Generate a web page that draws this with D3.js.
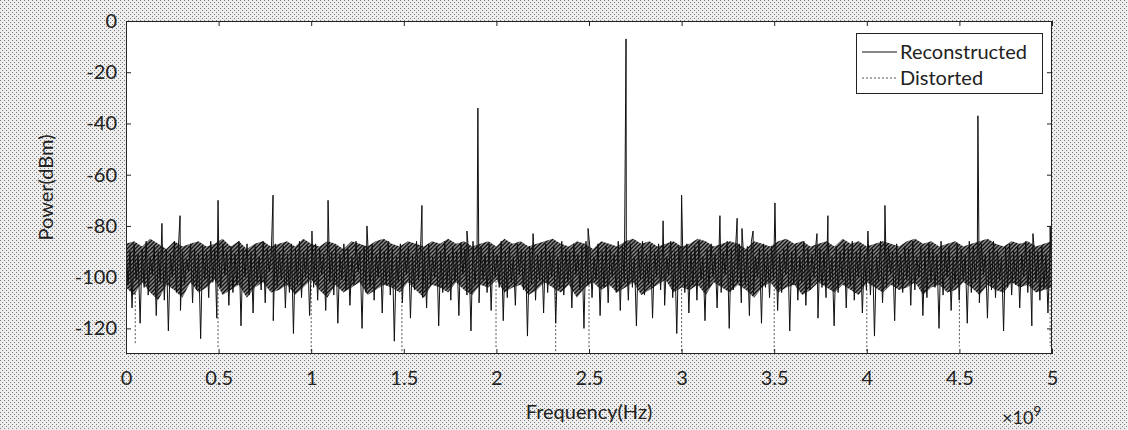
<!DOCTYPE html>
<html><head><meta charset="utf-8">
<script src="https://cdn.jsdelivr.net/npm/d3@7"></script>
<style>
html,body{margin:0;padding:0;background:#fff;}
svg{display:block;font-family:Lato,"Open Sans",sans-serif;}
</style></head>
<body>
<svg id="chart" width="1128" height="430"></svg>
<script>
// ---- data ----
const xTicks = [0, 0.5, 1, 1.5, 2, 2.5, 3, 3.5, 4, 4.5, 5];
const yTicks = [0, -20, -40, -60, -80, -100, -120];
const seriesNames = ["Reconstructed", "Distorted"];

// noise floor samples (dBm), evenly spaced over 0..5 (x10^9 Hz)
const noiseFloor = [
-88,-103,-90,-112,-87,-101,-91,-118,-89,-104,-86,-107,-92,-99,-88,-115,-90,-102,-87,-109,
-89,-121,-91,-100,-86,-106,-88,-113,-90,-103,-93,-98,-87,-110,-89,-105,-91,-124,-88,-101,
-90,-108,-86,-102,-89,-116,-92,-104,-87,-99,-90,-111,-88,-106,-91,-103,-86,-119,-89,-100,
-87,-107,-90,-114,-88,-102,-92,-105,-86,-110,-89,-98,-91,-117,-87,-104,-90,-101,-88,-112,
-91,-106,-87,-122,-89,-103,-86,-108,-90,-100,-88,-115,-92,-104,-87,-109,-89,-99,-91,-113,
-86,-102,-90,-107,-88,-118,-91,-101,-87,-105,-89,-111,-92,-103,-86,-98,-90,-120,-88,-106,
-89,-104,-87,-109,-91,-100,-88,-114,-90,-103,-86,-107,-89,-125,-92,-102,-87,-110,-90,-99,
-88,-116,-91,-105,-86,-101,-89,-108,-90,-112,-87,-103,-92,-100,-88,-119,-90,-106,-86,-104,
-91,-109,-88,-102,-90,-115,-87,-99,-89,-107,-92,-121,-86,-103,-90,-110,-88,-101,-91,-106,
-87,-113,-89,-100,-91,-104,-86,-117,-90,-108,-88,-102,-92,-111,-87,-99,-89,-105,-90,-123,
-88,-103,-86,-109,-91,-101,-89,-114,-87,-106,-90,-100,-88,-118,-92,-104,-86,-107,-89,-102,
-90,-112,-87,-99,-91,-105,-88,-120,-86,-103,-89,-108,-92,-101,-87,-115,-90,-104,-88,-110,
-89,-100,-91,-106,-86,-113,-88,-102,-90,-109,-87,-104,-92,-119,-89,-101,-86,-107,-91,-103,
-88,-116,-90,-100,-87,-105,-89,-111,-92,-99,-86,-108,-90,-122,-88,-102,-91,-106,-87,-114,
-90,-103,-88,-109,-86,-101,-92,-117,-89,-104,-87,-100,-91,-112,-88,-106,-90,-99,-86,-120,
-89,-105,-91,-102,-87,-110,-90,-103,-88,-115,-86,-107,-92,-100,-89,-118,-87,-104,-90,-108,
-88,-101,-86,-113,-91,-106,-89,-99,-87,-121,-90,-103,-88,-109,-92,-102,-86,-111,-89,-105,
-91,-100,-87,-116,-89,-104,-90,-108,-86,-102,-92,-119,-88,-106,-90,-101,-87,-112,-89,-103,
-86,-109,-90,-100,-88,-114,-91,-105,-87,-107,-89,-123,-92,-102,-86,-110,-90,-104,-88,-99,
-90,-117,-87,-103,-91,-106,-88,-101,-89,-111,-86,-105,-92,-100,-88,-115,-90,-108,-87,-102,
-89,-104,-91,-120,-86,-107,-90,-100,-88,-113,-92,-103,-87,-109,-89,-101,-91,-118,-86,-106,
-88,-102,-90,-110,-87,-99,-91,-116,-89,-105,-86,-108,-90,-101,-92,-121,-88,-104,-87,-107,
-90,-103,-88,-112,-91,-100,-86,-106,-89,-119,-87,-102,-90,-109,-88,-104,-91,-114,-89,-101
];

// dense-band envelope of the noise floor (dBm), evenly spaced over 0..5
const bandUpper = [
-87,-86,-88,-85,-87,-89,-86,-88,-87,-86,-88,-87,-85,-88,-86,-89,-87,-86,-88,-87,
-86,-88,-85,-87,-88,-86,-87,-89,-86,-87,-88,-86,-85,-87,-88,-86,-87,-88,-86,-87,
-85,-87,-86,-88,-87,-86,-88,-85,-87,-86,-88,-87,-86,-85,-87,-88,-86,-87,-89,-86,
-87,-88,-86,-85,-87,-86,-88,-87,-86,-88,-87,-85,-86,-88,-87,-86,-87,-89,-86,-87,
-88,-86,-85,-87,-86,-88,-87,-86,-88,-85,-87,-86,-88,-87,-86,-87,-88,-86,-85,-87,
-86,-88,-87,-86,-88,-87,-86,-85,-87,-88,-86,-87,-86,-88,-87,-86
];
const bandLower = [
-104,-107,-102,-106,-109,-103,-105,-108,-102,-106,-104,-101,-107,-105,-103,-108,-104,-102,-106,-105,
-103,-107,-104,-101,-105,-108,-103,-106,-104,-102,-107,-105,-103,-104,-106,-102,-105,-108,-103,-104,
-106,-102,-105,-107,-103,-104,-101,-106,-104,-103,-107,-105,-102,-104,-106,-103,-108,-104,-102,-105,
-103,-106,-104,-102,-107,-105,-103,-101,-106,-104,-105,-103,-107,-102,-104,-106,-103,-105,-108,-104,
-102,-106,-104,-103,-107,-105,-102,-104,-106,-103,-105,-107,-102,-104,-106,-103,-105,-104,-102,-107,
-104,-103,-106,-105,-102,-104,-107,-103,-105,-106,-102,-104,-103,-106,-105,-104
];

// tones / spurs (frequency in x10^9 Hz, level in dBm)
const spurFreq  = [0.194,0.292,0.497,0.794,1.004,1.091,1.301,1.598,1.841,1.9,2.198,2.495,2.7,2.9,3.0,3.207,3.3,3.326,3.386,3.504,3.731,3.79,4.006,4.098,4.6,4.897,4.99];
const spurLevel = [-79,-76,-70,-68,-82,-70,-80,-72,-82,-34,-83,-81,-7,-78,-68,-76,-77,-81,-82,-71,-83,-76,-82,-72,-37,-83,-80];

// distorted trace deep notches
const distFreq  = [0.05,0.497,1.0,1.49,1.998,2.32,2.5,3.0,3.5,4.0,4.5,4.99];
const distLevel = [-126,-128,-129,-129,-128,-129,-128,-129,-129,-130,-127,-127];

// ---- chart ----
const W = 1128, H = 430;
const m = {left:126, right:1052, top:21, bottom:354};
const svg = d3.select("#chart");

const defs = svg.append("defs");
const pat = defs.append("pattern").attr("id","dots").attr("width",4).attr("height",4)
  .attr("patternUnits","userSpaceOnUse");
pat.append("rect").attr("width",4).attr("height",4).attr("fill","#eeeeee");
pat.append("rect").attr("x",0).attr("y",0).attr("width",1).attr("height",1).attr("fill","#7a7a7a");
pat.append("rect").attr("x",2).attr("y",2).attr("width",1).attr("height",1).attr("fill","#7a7a7a");

// diagonal hatch for dense noise band
const hat = defs.append("pattern").attr("id","hatch").attr("width",4).attr("height",4)
  .attr("patternUnits","userSpaceOnUse");
hat.append("rect").attr("width",4).attr("height",4).attr("fill","#8a8a8a");
hat.append("path").attr("d","M-1,1 L1,-1 M0,4 L4,0 M3,5 L5,3").attr("stroke","#111").attr("stroke-width",1.4);

svg.append("rect").attr("width",W).attr("height",H).attr("fill","url(#dots)");

const x = d3.scaleLinear().domain([0,5]).range([m.left, m.right]);
const y = d3.scaleLinear().domain([-130,0]).range([m.bottom, m.top]);

svg.append("rect").attr("x",m.left).attr("y",m.top)
  .attr("width",m.right-m.left).attr("height",m.bottom-m.top).attr("fill","#fff");

const clip = defs.append("clipPath").attr("id","clip");
clip.append("rect").attr("x",m.left).attr("y",m.top)
  .attr("width",m.right-m.left).attr("height",m.bottom-m.top);

const g = svg.append("g").attr("clip-path","url(#clip)");

// distorted (dotted)
g.selectAll("line.dist").data(distFreq.map((f,i)=>({f, v:distLevel[i]})))
  .join("line").attr("class","dist")
  .attr("x1",d=>x(d.f)).attr("x2",d=>x(d.f))
  .attr("y1",y(-100)).attr("y2",d=>y(d.v))
  .attr("stroke","#555").attr("stroke-width",1).attr("stroke-dasharray","2,2");

// reconstructed: dense band
const NB = bandUpper.length;
const band = bandUpper.map((u,i)=>({f:i*5/(NB-1), u, l:bandLower[i]}));
g.append("path").datum(band)
  .attr("d", d3.area().x(d=>x(d.f)).y0(d=>y(d.l)).y1(d=>y(d.u)))
  .attr("fill","url(#hatch)");

// reconstructed: trace
const N = noiseFloor.length;
const pts = noiseFloor.map((v,i)=>({f: i*5/(N-1), v}))
  .concat(spurFreq.map((f,i)=>({f, v: spurLevel[i]})))
  .sort((a,b)=>a.f-b.f);
const line = d3.line().x(d=>x(d.f)).y(d=>y(d.v));
g.append("path").datum(pts).attr("d",line)
  .attr("fill","none").attr("stroke","#111").attr("stroke-width",1);

// axes
const fs = 20;
const axB = svg.append("g").attr("transform",`translate(0,${m.bottom})`)
  .call(d3.axisBottom(x).tickValues(xTicks).tickFormat(d=>String(d)).tickSizeInner(-5).tickSizeOuter(0).tickPadding(17));
const axT = svg.append("g").attr("transform",`translate(0,${m.top})`)
  .call(d3.axisTop(x).tickValues(xTicks).tickFormat("").tickSizeInner(-5).tickSizeOuter(0));
const axL = svg.append("g").attr("transform",`translate(${m.left},0)`)
  .call(d3.axisLeft(y).tickValues(yTicks).tickFormat(d=>String(d)).tickSizeInner(-5).tickSizeOuter(0).tickPadding(9));
const axR = svg.append("g").attr("transform",`translate(${m.right},0)`)
  .call(d3.axisRight(y).tickValues(yTicks).tickFormat("").tickSizeInner(-5).tickSizeOuter(0));
[axB,axT,axL,axR].forEach(a=>{
  a.select(".domain").remove();
  a.selectAll(".tick line").attr("stroke","#222");
  a.selectAll("text").attr("font-size",fs).attr("fill","#222").attr("font-family","Lato, sans-serif");
});
svg.append("rect").attr("x",m.left+0.5).attr("y",m.top+0.5)
  .attr("width",m.right-m.left-1).attr("height",m.bottom-m.top-1)
  .attr("fill","none").attr("stroke","#222").attr("stroke-width",1);

svg.append("text").attr("x",(m.left+m.right)/2).attr("y",419)
  .attr("text-anchor","middle").attr("font-size",fs).attr("fill","#222").text("Frequency(Hz)");
svg.append("text").attr("transform",`translate(53,${(m.top+m.bottom)/2}) rotate(-90)`)
  .attr("text-anchor","middle").attr("font-size",fs).attr("fill","#222").text("Power(dBm)");
const ex = svg.append("text").attr("x",1002).attr("y",424).attr("font-size",18).attr("fill","#222");
ex.append("tspan").text("×10");
ex.append("tspan").attr("dy",-8).attr("font-size",14).text("9");

// legend
const lg = svg.append("g");
lg.append("rect").attr("x",856.5).attr("y",33.5).attr("width",186).attr("height",60)
  .attr("fill","#fff").attr("stroke","#222");
const styles = [{dash:null, color:"#111"}, {dash:"2,2", color:"#555"}];
seriesNames.forEach((n,i)=>{
  const yy = 52 + i*26;
  lg.append("line").attr("x1",862).attr("x2",897).attr("y1",yy).attr("y2",yy)
    .attr("stroke",styles[i].color).attr("stroke-width",1).attr("stroke-dasharray",styles[i].dash);
  lg.append("text").attr("x",900).attr("y",yy).attr("dy","0.35em")
    .attr("font-size",fs).attr("fill","#222").text(n);
});
</script>
</body></html>
